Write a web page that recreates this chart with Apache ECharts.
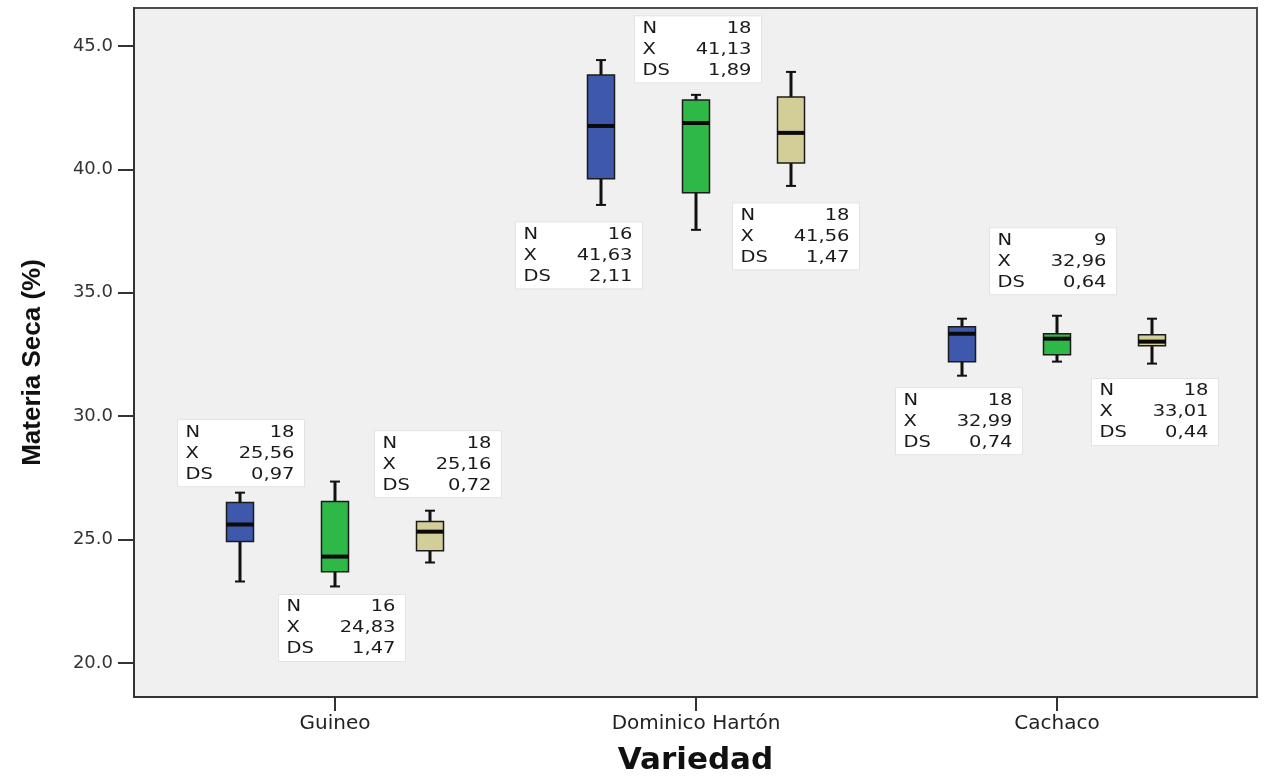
<!DOCTYPE html>
<html>
<head>
<meta charset="utf-8">
<script src="https://cdn.jsdelivr.net/npm/echarts@6/dist/echarts.min.js"></script>
<style>
  html, body { margin: 0; padding: 0; background: #ffffff; }
  #chart { width: 1265px; height: 776px; }
</style>
</head>
<body>
<div id="chart"></div>
<script>
// Varieties on the horizontal axis and tick values of the vertical axis
const variedades = ['Guineo', 'Dominico Hartón', 'Cachaco'];
const yTicks = [20, 25, 30, 35, 40, 45];

// Box summaries per variety: [mín, Q1, mediana, Q3, máx]
const cajasAzul  = [[23.30, 24.92, 25.61, 26.50, 26.90], [38.56, 39.62, 41.76, 43.83, 44.43], [31.64, 32.21, 33.34, 33.62, 33.95]];
const cajasVerde = [[23.10, 23.70, 24.31, 26.54, 27.35], [37.55, 39.05, 41.88, 42.81, 43.02], [32.21, 32.49, 33.14, 33.34, 34.07]];
const cajasBeige = [[24.07, 24.55, 25.32, 25.73, 26.17], [39.33, 40.26, 41.48, 42.93, 43.95], [32.13, 32.85, 33.02, 33.30, 33.95]];

// Descriptive statistics printed next to each box
const nAzul  = ['18', '16', '18'];
const nVerde = ['16', '18', '9'];
const nBeige = ['18', '18', '18'];
const mediaAzul  = ['25,56', '41,63', '32,99'];
const mediaVerde = ['24,83', '41,13', '32,96'];
const mediaBeige = ['25,16', '41,56', '33,01'];
const dsAzul  = ['0,97', '2,11', '0,74'];
const dsVerde = ['1,47', '1,89', '0,64'];
const dsBeige = ['0,72', '1,47', '0,44'];

// Placement of each statistics panel relative to its whisker end (pixels)
const panelAzul  = [{ side: 'top', dx: 1, gap: 6 }, { side: 'bottom', dx: -22, gap: 17 }, { side: 'bottom', dx: -3, gap: 12 }];
const panelVerde = [{ side: 'bottom', dx: 7, gap: 8 }, { side: 'top', dx: 2, gap: 12 }, { side: 'top', dx: -4, gap: 21 }];
const panelBeige = [{ side: 'top', dx: 8, gap: 13 }, { side: 'bottom', dx: 5, gap: 17 }, { side: 'bottom', dx: 3, gap: 15 }];

const SPREAD = 0.264;      // distance between neighbouring boxes inside one variety (axis units)
const BOX_W = 27;
const PANEL_W = 127, PANEL_H = 67;
const TEXT_FONT = '15px "DejaVu Sans", sans-serif';

const grupos = [
  { name: 'Azul',  color: '#3E58AC', cajas: cajasAzul,  n: nAzul,  media: mediaAzul,  ds: dsAzul,  panel: panelAzul,  shift: -1 },
  { name: 'Verde', color: '#2EB848', cajas: cajasVerde, n: nVerde, media: mediaVerde, ds: dsVerde, panel: panelVerde, shift: 0 },
  { name: 'Beige', color: '#D3CE97', cajas: cajasBeige, n: nBeige, media: mediaBeige, ds: dsBeige, panel: panelBeige, shift: 1 }
];

function statText(x, y, text, align) {
  return {
    type: 'text', x: x, y: y, scaleX: 1.3,
    style: {
      text: text, font: TEXT_FONT, fill: '#1a1a1a',
      align: align, textAlign: align, verticalAlign: 'middle', textVerticalAlign: 'middle'
    }
  };
}

function makeSeries(g) {
  const data = g.cajas.map((c, i) => [i + g.shift * SPREAD].concat(c));
  return {
    type: 'custom',
    name: g.name,
    data: data,
    encode: { x: 0, y: [1, 2, 3, 4, 5] },
    clip: false,
    renderItem: function (params, api) {
      const i = params.dataIndex;
      const x = api.value(0);
      const cx = Math.round(api.coord([x, api.value(1)])[0]);
      const yMin = api.coord([x, api.value(1)])[1];
      const yQ1 = api.coord([x, api.value(2)])[1];
      const yMed = api.coord([x, api.value(3)])[1];
      const yQ3 = api.coord([x, api.value(4)])[1];
      const yMax = api.coord([x, api.value(5)])[1];
      const half = BOX_W / 2;
      const children = [
        { type: 'line', shape: { x1: cx, y1: yQ1, x2: cx, y2: yMin }, style: { stroke: '#111', lineWidth: 3 } },
        { type: 'line', shape: { x1: cx, y1: yQ3, x2: cx, y2: yMax }, style: { stroke: '#111', lineWidth: 3 } },
        { type: 'line', shape: { x1: cx - 5, y1: yMin, x2: cx + 5, y2: yMin }, style: { stroke: '#111', lineWidth: 2 } },
        { type: 'line', shape: { x1: cx - 5, y1: yMax, x2: cx + 5, y2: yMax }, style: { stroke: '#111', lineWidth: 2 } },
        { type: 'rect', shape: { x: cx - half, y: yQ3, width: BOX_W, height: yQ1 - yQ3 },
          style: { fill: g.color, stroke: '#1b1b1b', lineWidth: 1.5 } },
        { type: 'line', shape: { x1: cx - half, y1: yMed, x2: cx + half, y2: yMed }, style: { stroke: '#0a0a0a', lineWidth: 4 } }
      ];
      // statistics panel
      const p = g.panel[i];
      const left = cx + p.dx - PANEL_W / 2;
      const top = p.side === 'top' ? yMax - p.gap - PANEL_H : yMin + p.gap;
      children.push({ type: 'rect', shape: { x: left, y: top, width: PANEL_W, height: PANEL_H },
        style: { fill: '#ffffff', stroke: '#e2e2e2', lineWidth: 1 } });
      const rows = [['N', g.n[i]], ['X', g.media[i]], ['DS', g.ds[i]]];
      const rowY = [13, 34, 55];
      rows.forEach((r, k) => {
        children.push(statText(left + 8, top + rowY[k], r[0], 'left'));
        children.push(statText(left + PANEL_W - 10, top + rowY[k], r[1], 'right'));
      });
      return { type: 'group', children: children };
    }
  };
}

const chart = echarts.init(document.getElementById('chart'), null, { renderer: 'canvas' });
chart.setOption({
  animation: false,
  backgroundColor: '#ffffff',
  grid: {
    left: 134, right: 8, top: 8, bottom: 79,
    outerBoundsMode: 'none',
    containLabel: false,
    show: true, backgroundColor: '#f0f0f0', borderColor: '#4d4d4d', borderWidth: 2
  },
  xAxis: {
    type: 'value',
    min: -0.557, max: 2.554,
    splitLine: { show: false },
    axisLine: { show: true, onZero: false, lineStyle: { color: '#333', width: 2 } },
    axisTick: { show: true, customValues: [0, 1, 2], length: 14, lineStyle: { color: '#333', width: 2 } },
    axisLabel: {
      customValues: [0, 1, 2],
      formatter: v => variedades[Math.round(v)],
      margin: 17, fontFamily: 'DejaVu Sans', fontSize: 20, color: '#222'
    },
    name: 'Variedad',
    nameLocation: 'middle',
    nameGap: 48,
    nameTextStyle: { fontFamily: 'DejaVu Sans', fontWeight: 'bold', fontSize: 31, color: '#111' }
  },
  yAxis: {
    type: 'value',
    min: 18.62, max: 46.54,
    splitLine: { show: false },
    axisLine: { show: true, onZero: false, lineStyle: { color: '#333', width: 2 } },
    axisTick: { show: true, customValues: yTicks, length: 16, lineStyle: { color: '#333', width: 2 } },
    axisLabel: {
      customValues: yTicks,
      formatter: v => v.toFixed(1),
      margin: 21, fontFamily: 'DejaVu Sans', fontSize: 18, color: '#333'
    },
    name: 'Materia Seca (%)',
    nameLocation: 'middle',
    nameRotate: 90,
    nameGap: 88,
    nameTextStyle: { fontFamily: 'Liberation Sans', fontWeight: 'bold', fontSize: 26, color: '#111', padding: [0, 20, 0, 0] }
  },
  series: grupos.map(makeSeries)
});
</script>
</body>
</html>
